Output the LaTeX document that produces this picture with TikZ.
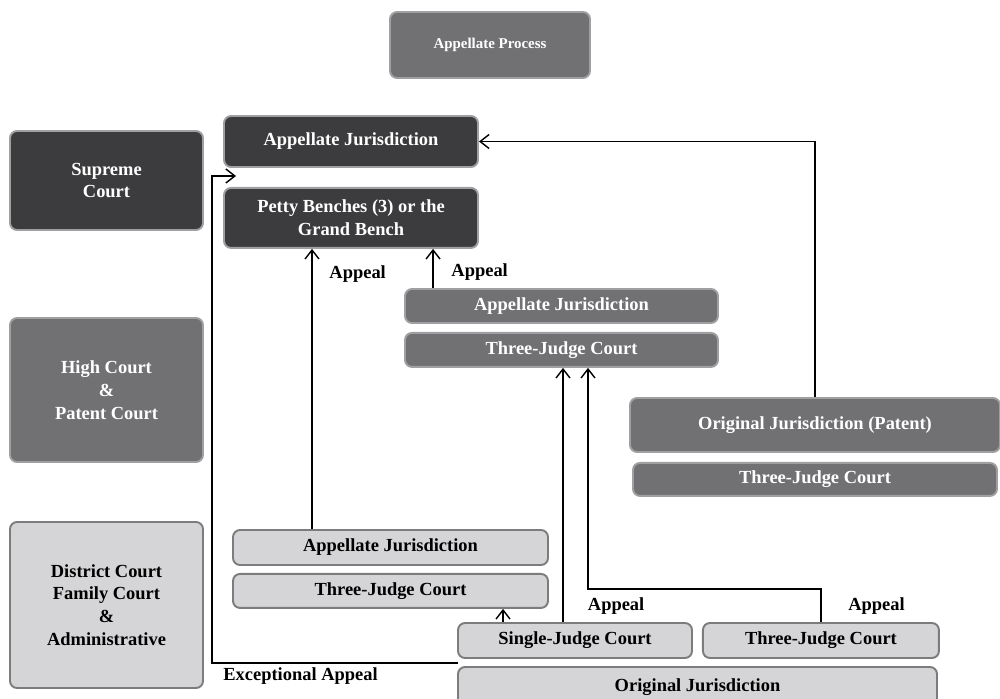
\documentclass[tikz,border=0pt]{standalone}
\usepackage{fontspec}
\setmainfont{Liberation Serif}
\usetikzlibrary{positioning,arrows.meta}

\definecolor{courtdark}{HTML}{3C3C3E}
\definecolor{courtmid}{HTML}{717174}
\definecolor{courtlight}{HTML}{D5D5D7}
\definecolor{edgelight}{HTML}{A0A0A2}
\definecolor{edgedark}{HTML}{7C7C7E}

\begin{document}
\begin{tikzpicture}[
		x=0.02cm, y=-0.02cm,
		node distance=0.16cm,
		court/.style={rounded corners=4pt, line width=1.1pt, align=center, inner sep=0pt,
			font=\fontsize{10.5}{13}\selectfont\bfseries},
		wh/.style 2 args={minimum width=#1*0.02cm, minimum height=#2*0.02cm},
		darkbox/.style={court, draw=edgelight, fill=courtdark, text=white},
		midbox/.style={court, draw=edgelight, fill=courtmid, text=white},
		lightbox/.style={court, draw=edgedark, fill=courtlight, text=black},
		appeal/.style={draw, line width=0.8pt, -{Straight Barb[length=1.8mm,width=2.8mm]}},
		lbl/.style={font=\fontsize{10.5}{13}\selectfont\bfseries, inner sep=1pt},
	]
		\useasboundingbox (0,0) rectangle (1000,699);

		% title
		\node [midbox, wh={200}{66}, font=\fontsize{8.5}{10}\selectfont\bfseries] (title) at (490,45) {Appellate Process};

		% court levels
		\node [darkbox, wh={193}{99}] (sc) at (106.5,180.5) {Supreme\\Court};
		\node [midbox, wh={193}{144}] (hc) at (106.5,390) {High Court\\\&\\Patent Court};
		\node [lightbox, wh={193}{166}] (dc) at (106.5,605) {District Court\\Family Court\\\&\\Administrative};

		% supreme court
		\node [darkbox, wh={254}{51}] (scaj) at (351,141.5) {Appellate Jurisdiction};
		\node [darkbox, wh={254}{60}, below=0.38cm of scaj] (petty) {Petty Benches (3) or the\\Grand Bench};

		% high court
		\node [midbox, wh={313}{34}] (hcaj) at (561.5,306) {Appellate Jurisdiction};
		\node [midbox, wh={313}{34}, below=of hcaj] (hctj) {Three-Judge Court};
		\node [midbox, wh={370}{54}] (patent) at (815,425) {Original Jurisdiction (Patent)};
		\node [midbox, wh={364}{33}, below=0.18cm of patent] (pattj) {Three-Judge Court};

		% district court
		\node [lightbox, wh={315}{35}] (dcaj) at (390.5,547.5) {Appellate Jurisdiction};
		\node [lightbox, wh={315}{34}, below=0.14cm of dcaj] (dctj) {Three-Judge Court};
		\node [lightbox, wh={234}{35}] (single) at (575,640.5) {Single-Judge Court};
		\node [lightbox, wh={236}{35}, right=0.18cm of single] (otj) {Three-Judge Court};
		\node [lightbox, wh={479}{40}] (orig) at (697.5,687) {Original Jurisdiction};

		\coordinate (bend) at (588,589);
		\coordinate (excstart) at (458,663);
		\coordinate (exccorner) at (212,176);
		\coordinate (excend) at (236,176);

		% connectors
		\draw [appeal] ([xshift=-1.57cm]dcaj.north) -- ([xshift=-1.57cm]dcaj.north |- petty.south)
			node [lbl, pos=0.91, right=0.3cm] {Appeal};
		\draw [appeal] ([xshift=-2.57cm]hcaj.north) -- ([xshift=-2.57cm]hcaj.north |- petty.south)
			node [lbl, pos=0.4, right=0.32cm] {Appeal};
		\draw [appeal] ([xshift=-0.24cm]single.north) -- ([xshift=-0.24cm]single.north |- hctj.south)
			node [lbl, pos=0.062, right=0.45cm] {Appeal};
		\draw [appeal] ([xshift=-1.44cm]single.north) -- ([xshift=-1.44cm]single.north |- dctj.south);
		\draw [appeal] (otj.north) |- (bend) node [lbl, pos=0.235, right=0.5cm] {Appeal}
			-- (bend |- hctj.south);
		\draw [appeal] (patent.north) |- (scaj.east);
		\draw [appeal] (excstart) -| (exccorner) node [lbl, pos=0.32, below=1pt] {Exceptional Appeal}
			-- (excend);
	\end{tikzpicture}
\end{document}
